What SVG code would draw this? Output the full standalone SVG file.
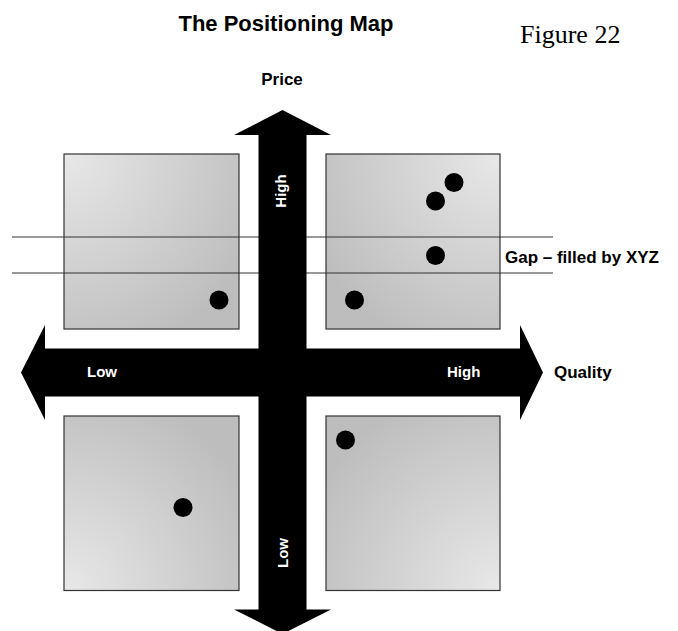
<svg xmlns="http://www.w3.org/2000/svg" width="678" height="631" viewBox="0 0 678 631">
  <style>
    .box { stroke: #333; stroke-width: 1.2; }
    .dot { fill: #000; }
    .gap { stroke: #333; stroke-width: 1; fill: none; }
    .axis { fill: #000; }
    .lbl { font-family: "Liberation Sans", Arial, sans-serif; font-weight: bold; fill: #000; }
    .wl { font-family: "Liberation Sans", Arial, sans-serif; font-weight: bold; fill: #fff; font-size: 15px; }
  </style>
  <defs>
    <radialGradient id="gTL" cx="0" cy="0" r="1.2" gradientUnits="objectBoundingBox">
      <stop offset="0" stop-color="#e8e8e8"/>
      <stop offset="1" stop-color="#bdbdbd"/>
    </radialGradient>
    <radialGradient id="gTR" cx="1" cy="0" r="1.2" gradientUnits="objectBoundingBox">
      <stop offset="0" stop-color="#e8e8e8"/>
      <stop offset="1" stop-color="#bdbdbd"/>
    </radialGradient>
    <radialGradient id="gBL" cx="0" cy="1" r="1.2" gradientUnits="objectBoundingBox">
      <stop offset="0" stop-color="#e8e8e8"/>
      <stop offset="1" stop-color="#bdbdbd"/>
    </radialGradient>
    <radialGradient id="gBR" cx="1" cy="1" r="1.2" gradientUnits="objectBoundingBox">
      <stop offset="0" stop-color="#e8e8e8"/>
      <stop offset="1" stop-color="#bdbdbd"/>
    </radialGradient>
  </defs>

  <rect width="678" height="631" fill="#fff"/>

  <text class="lbl" x="286" y="31" font-size="22" text-anchor="middle">The Positioning Map</text>
  <text x="520" y="43" font-family="'Liberation Serif', 'Times New Roman', serif" font-size="26" fill="#000">Figure 22</text>

  <g id="box-top-left">
    <rect class="box" x="64" y="154" width="175" height="175" fill="url(#gTL)"/>
    <circle class="dot" cx="219" cy="300" r="9.5"/>
  </g>
  <g id="box-top-right">
    <rect class="box" x="326" y="154" width="174" height="175" fill="url(#gTR)"/>
    <circle class="dot" cx="454" cy="182.5" r="9.5"/>
    <circle class="dot" cx="435.5" cy="201" r="9.5"/>
    <circle class="dot" cx="435.5" cy="255.5" r="9.5"/>
    <circle class="dot" cx="354.5" cy="300" r="9.5"/>
  </g>
  <g id="box-bottom-left">
    <rect class="box" x="64" y="416" width="175" height="174.5" fill="url(#gBL)"/>
    <circle class="dot" cx="183" cy="507.5" r="9.5"/>
  </g>
  <g id="box-bottom-right">
    <rect class="box" x="326" y="416" width="174" height="174.5" fill="url(#gBR)"/>
    <circle class="dot" cx="345.5" cy="440" r="9.5"/>
  </g>

  <g id="connectors">
    <line class="gap" x1="12" y1="237" x2="553" y2="237"/>
    <line class="gap" x1="12" y1="273" x2="553" y2="273"/>
    <polygon id="axis-quality" class="axis" points="21,372.5 45,325 45,348.5 520,348.5 520,325 543,372.5 520,420 520,396.5 45,396.5 45,420"/>
    <polygon id="axis-price" class="axis" points="282.5,110 331,135 306.5,135 306.5,609.5 331,609.5 282.5,634 234,609.5 258.5,609.5 258.5,135 234,135"/>
  </g>

  <g id="labels">
    <text class="lbl" x="282" y="85" font-size="17" text-anchor="middle">Price</text>
    <text class="lbl" x="554" y="378" font-size="17">Quality</text>
    <text class="lbl" x="505" y="263" font-size="17">Gap – filled by XYZ</text>
    <text class="wl" x="87" y="377">Low</text>
    <text class="wl" x="447" y="377">High</text>
    <text class="wl" transform="translate(286,191) rotate(-90)" text-anchor="middle">High</text>
    <text class="wl" transform="translate(288,553) rotate(-90)" text-anchor="middle">Low</text>
  </g>
</svg>
